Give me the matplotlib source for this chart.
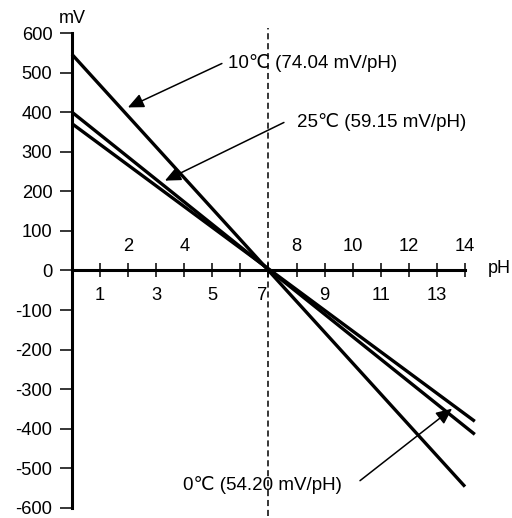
import numpy as np
import matplotlib
matplotlib.use('Agg')
import matplotlib.pyplot as plt

plt.rcParams['font.family'] = ['Liberation Sans', 'DejaVu Sans']

# electrode response lines (pH, mV)
ph_10 = [0, 14]
mv_10 = [546, -546]
ph_25 = [0, 14.35]
mv_25 = [400, -414]
ph_0 = [0, 14.35]
mv_0 = [371, -381]

yticks = np.arange(-600, 601, 100)
xticks = np.arange(1, 15)
xlab_below = [1, 3, 5, 7, 9, 11, 13]
xlab_above = [2, 4, 8, 10, 12, 14]

# annotation: label, text pos, arrow tail, arrow tip
notes = [
    ('10℃ (74.04 mV/pH)', (5.56, 525), (5.34, 523), (1.99, 412)),
    ('25℃ (59.15 mV/pH)', (8.02, 376), (7.55, 374), (3.31, 227)),
    ('0℃ (54.20 mV/pH)', (3.95, -543), (10.26, -531), (13.54, -349)),
]

fig = plt.figure(figsize=(5.12, 5.18), dpi=100)
ax = fig.add_axes([0, 0, 1, 1])
ax.set_xlim(-2.565, 15.675)
ax.set_ylim(-625.3, 683.4)

for s in ['top', 'right']:
    ax.spines[s].set_visible(False)
ax.spines['left'].set_position(('data', 0))
ax.spines['left'].set_bounds(-600, 600)
ax.spines['bottom'].set_position(('data', 0))
ax.spines['bottom'].set_bounds(0, 14)
ax.spines['left'].set_linewidth(2.2)
ax.spines['bottom'].set_linewidth(2.2)

ax.set_yticks(yticks)
ax.set_yticklabels([str(v) for v in yticks])
ax.tick_params(axis='y', direction='out', length=8.6, width=1.1, pad=5.5, labelsize=13.2)
ax.set_xticks(xticks)
ax.tick_params(axis='x', direction='inout', length=10, width=1.1, labelbottom=False)

for v in xlab_below:
    x = v - 0.23 if v == 7 else v
    ax.text(x, -62, str(v), ha='center', va='center', fontsize=13.2)
for v in xlab_above:
    ax.text(v, 60, str(v), ha='center', va='center', fontsize=13.2)

ax.text(0.0, 637, 'mV', ha='center', va='center', fontsize=13)
ax.text(14.82, 5, 'pH', ha='left', va='center', fontsize=13)

ax.vlines(7, -620, 612, colors='black', linestyles=(0, (4, 2.5)), linewidth=1.1)

for ph, mv in [(ph_10, mv_10), (ph_25, mv_25), (ph_0, mv_0)]:
    ax.plot(ph, mv, color='black', linewidth=2.4, solid_capstyle='butt')

for label, tpos, tail, tip in notes:
    ax.annotate('', xy=tip, xytext=tail,
                arrowprops=dict(arrowstyle='-|>,head_length=0.4,head_width=0.18',
                                color='black', lw=1.1, mutation_scale=24,
                                shrinkA=0, shrinkB=0))
    ax.text(tpos[0], tpos[1], label, ha='left', va='center', fontsize=13.5)

fig.savefig('out.png', dpi=100)
